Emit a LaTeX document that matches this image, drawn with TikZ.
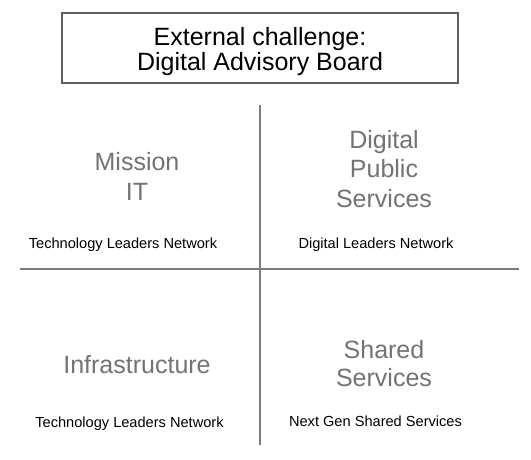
\documentclass[tikz,border=0pt]{standalone}
\usepackage{fontspec}
\setmainfont{Liberation Sans}
\definecolor{labelgray}{RGB}{115,115,115}
\definecolor{linegray}{RGB}{125,125,125}
\definecolor{boxgray}{RGB}{95,95,95}
\begin{document}
\begin{tikzpicture}[x=1pt,y=-1pt,
  bigtext/.style={anchor=north,inner sep=0pt,align=center,text=labelgray,font=\fontsize{25}{29.5}\selectfont},
  smalltext/.style={anchor=base,inner sep=0pt,text=black,font=\fontsize{14.6}{17}\selectfont},
  divider/.style={draw=linegray,line width=1.6pt},
  titlebox/.style={draw=boxgray,line width=1.3pt,minimum width=396pt,minimum height=70pt,inner sep=0pt,align=center,font=\fontsize{25}{25}\selectfont}]
\useasboundingbox (0,0) rectangle (531,460);
\fill[white] (0,0) rectangle (531,460);
\node[titlebox] (board) at (260,48) {\rule{0pt}{25pt}External challenge:\\Digital Advisory Board};
\coordinate (vtop) at (260,105);
\coordinate (vbot) at (260,445);
\coordinate (hleft) at (20,269);
\coordinate (hright) at (519,269);
\draw[divider] (vtop) -- (vbot);
\draw[divider] (hleft) -- (hright);
\node[bigtext,font=\fontsize{25}{30}\selectfont] (mission) at (137,152) {Mission\\IT};
\node[bigtext] (dps) at (384,130) {Digital\\Public\\Services};
\node[bigtext] (infra) at (137,355) {Infrastructure};
\node[bigtext,font=\fontsize{25}{28}\selectfont] (shared) at (384,340) {Shared\\Services};
\node[smalltext] (tln1) at (123,248) {Technology Leaders Network};
\node[smalltext] (dln) at (376,248) {Digital Leaders Network};
\node[smalltext] (tln2) at (129.5,427) {Technology Leaders Network};
\node[smalltext] (ngss) at (375.5,426) {Next Gen Shared Services};
\end{tikzpicture}
\end{document}
